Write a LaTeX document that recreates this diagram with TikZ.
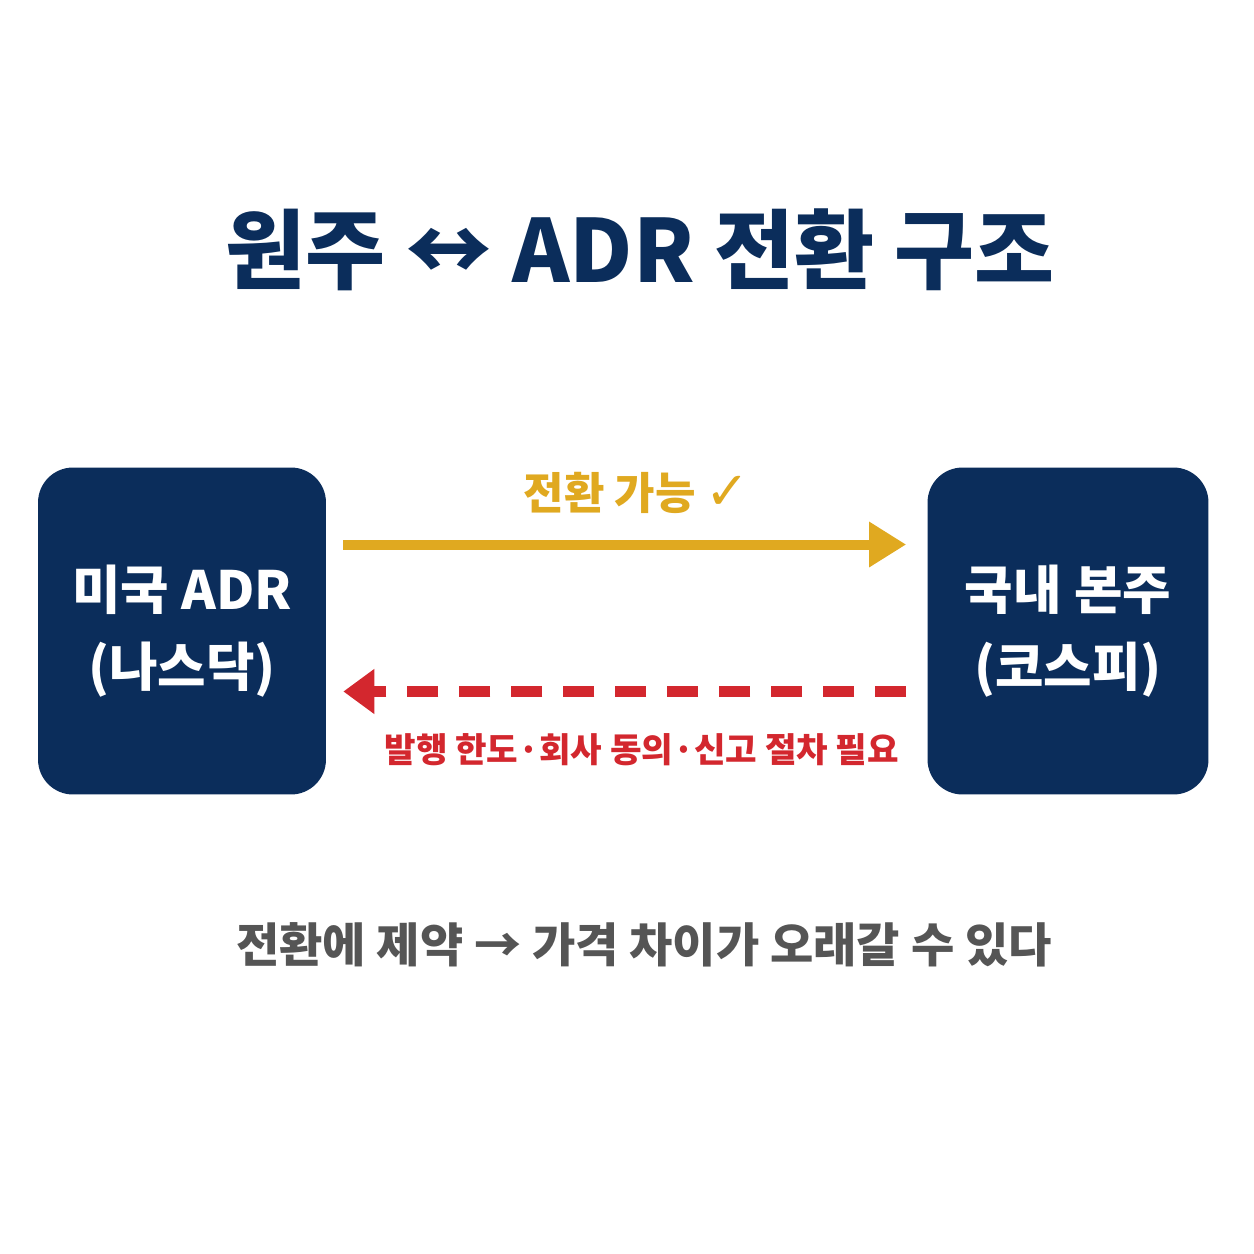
\documentclass[tikz,border=0pt]{standalone}
\usepackage{fontspec}
\setmainfont{Noto Sans CJK KR}
\newfontfamily\symfont{DejaVu Sans}
\usetikzlibrary{arrows.meta}
\definecolor{navy}{HTML}{0B2D5B}
\definecolor{gold}{HTML}{E0A920}
\definecolor{alertred}{HTML}{D3272E}
\definecolor{note}{HTML}{555555}
\begin{document}
\begin{tikzpicture}[x=0.02cm, y=-0.02cm,
		market/.style={fill=navy, rounded corners=0.7cm, text=white, align=center,
			inner sep=0pt, minimum height=6.54cm,
			font=\bfseries\fontsize{30}{44}\selectfont},
		convert/.style={draw=gold, line width=0.2cm,
			-{Triangle[length=0.74cm, width=0.86cm]}},
		restrict/.style={draw=alertred, line width=0.21cm, dash pattern=on 0.62cm off 0.42cm,
			-{Triangle[length=0.62cm, width=0.86cm]}}]
	\useasboundingbox[fill=white] (0,0) rectangle (1254,1254);
	% title
	\node[text=navy, font=\bfseries\fontsize{49.5}{56}\selectfont] (title) at (640,250) {원주 ↔ ADR 전환 구조};
	% markets
	\node[market, minimum width=5.76cm] (adr) at (182,631) {미국 ADR\\(나스닥)};
	\node[market, minimum width=5.62cm] (kospi) at (1068,631) {국내 본주\\(코스피)};
	% arrows
	\draw[convert, shorten <=0.34cm, shorten >=0.42cm] ([yshift=1.73cm]adr.east) -- ([yshift=1.73cm]kospi.west)
		node[midway, xshift=0.2cm, yshift=1.04cm, text=gold, font=\bfseries\fontsize{25}{30}\selectfont] (yes) {전환 가능 {\symfont\fontsize{30}{30}\selectfont ✓}};
	\draw[restrict, shorten <=0.42cm, shorten >=0.34cm] ([yshift=-1.21cm]kospi.west) -- ([yshift=-1.21cm]adr.east)
		node[midway, xshift=0.3cm, yshift=-1.16cm, text=alertred, font=\bfseries\fontsize{19.5}{24}\selectfont] (no) {발행 한도·회사 동의·신고 절차 필요};
	% note
	\node[text=note, font=\bfseries\fontsize{26.8}{32}\selectfont] (note) at (644,945) {전환에 제약 → 가격 차이가 오래갈 수 있다};
\end{tikzpicture}
\end{document}
